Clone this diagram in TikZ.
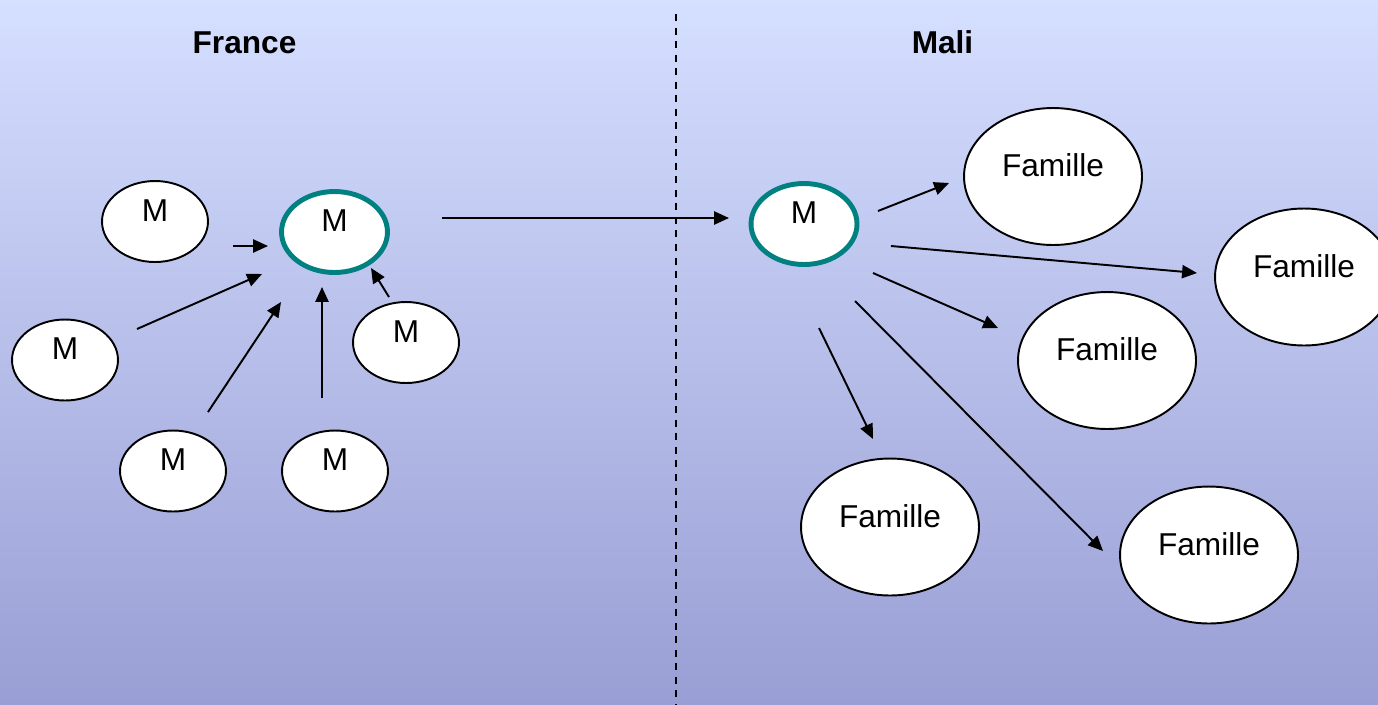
\documentclass[tikz,border=0pt]{standalone}
\usepackage{fontspec}
\setmainfont{Liberation Sans}
\usepackage{tikz}
\usetikzlibrary{arrows.meta}
\usetikzlibrary{shapes.geometric}
\tikzset{>={Triangle[length=8.5pt,width=7.5pt]}}
\definecolor{bgtop}{RGB}{213,223,255}
\definecolor{bgbottom}{RGB}{153,158,212}
\definecolor{ring}{RGB}{0,128,128}

\begin{document}
\begin{tikzpicture}[x=0.02cm,y=-0.02cm,
  blob/.style={draw,ellipse,fill=white,line width=1.1pt,inner sep=0pt,text depth=0.44cm,font=\fontsize{18}{21}\selectfont},
  person/.style={blob,minimum width=2.12cm,minimum height=1.62cm},
  family/.style={blob,minimum width=3.56cm,minimum height=2.74cm},
  hub/.style={person,draw=ring,line width=2.8pt},
  link/.style={->,line width=1.1pt},
  title/.style={font=\fontsize{18}{21}\selectfont\bfseries}]

\shade [top color=bgtop,bottom color=bgbottom] (0,0) rectangle (1378,704);
\useasboundingbox (0,0) rectangle (1378,704);
\clip (0,0) rectangle (1378,704);

\node (france) [title] at (244.5,42.5) {France};
\node (mali) [title] at (942.5,42.5) {Mali};

\coordinate (divtop) at (676,14);
\coordinate (divbot) at (676,704);
\draw [line width=1.1pt,dash pattern=on 4pt off 3.7pt] (divtop) -- (divbot);

% France side
\node (m1) [person] at (155,221.5) {M};
\node (m2) [person] at (65,360) {M};
\node (m3) [person] at (173,471) {M};
\node (m4) [person] at (335,471) {M};
\node (m5) [person] at (406,342.5) {M};
\node (mFrance) [hub] at (334.5,232) {M};

% Mali side
\node (mMali) [hub] at (804,224) {M};
\node (fam1) [family] at (1053,176.5) {Famille};
\node (fam2) [family] at (1304,277) {Famille};
\node (fam3) [family] at (1107,360.5) {Famille};
\node (fam4) [family] at (890,527) {Famille};
\node (fam5) [family] at (1209,555) {Famille};

% arrow ends
\coordinate (s1) at (233,246);   \coordinate (e1) at (268,246);
\coordinate (s2) at (137,329);   \coordinate (e2) at (262,274);
\coordinate (s3) at (208,412);   \coordinate (e3) at (281,302);
\coordinate (s4) at (322,398);   \coordinate (e4) at (322,287);
\coordinate (s5) at (389,297);   \coordinate (e5) at (371,268);
\coordinate (s6) at (442,218);   \coordinate (e6) at (729,218);
\coordinate (s7) at (878,211);   \coordinate (e7) at (949,183);
\coordinate (s8) at (891,246);   \coordinate (e8) at (1197,273);
\coordinate (s9) at (873,273);   \coordinate (e9) at (998,328);
\coordinate (s10) at (855,301);  \coordinate (e10) at (1103,551);
\coordinate (s11) at (819,328);  \coordinate (e11) at (873,439);

\foreach \x in {1,...,11} \draw [link] (s\x) -- (e\x);

\end{tikzpicture}
\end{document}
